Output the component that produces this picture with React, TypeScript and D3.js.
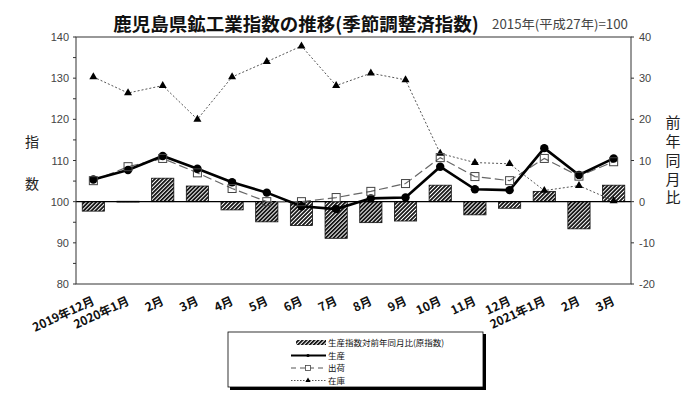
import React from "react";
import * as d3 from "d3";

const categories = [
  "2019年12月", "2020年1月", "2月", "3月", "4月", "5月", "6月", "7月",
  "8月", "9月", "10月", "11月", "12月", "2021年1月", "2月", "3月",
];
const production = [105.4, 107.7, 111.1, 108.0, 104.7, 102.2, 98.9, 98.2, 100.8, 101.0, 108.5, 103.0, 102.8, 113.0, 106.5, 110.5];
const shipments = [105.1, 108.5, 110.5, 107.0, 103.2, 100.0, 100.0, 101.0, 102.5, 104.4, 110.7, 106.1, 105.1, 110.5, 106.2, 109.7];
const inventory = [130.3, 126.4, 128.2, 120.0, 130.3, 134.0, 137.8, 128.2, 131.2, 129.6, 111.7, 109.5, 109.2, 102.7, 103.9, 100.2];
const yoy = [-2.3, 0.1, 5.7, 3.8, -2.0, -4.9, -5.8, -8.9, -5.1, -4.7, 4.0, -3.2, -1.6, 2.5, -6.6, 4.0];
const leftTicks = [80, 90, 100, 110, 120, 130, 140];
const rightTicks = [-20, -10, 0, 10, 20, 30, 40];
const legendLabels = ["生産指数対前年同月比(原指数)", "生産", "出荷", "在庫"];

const W = 700, H = 394;
const left = 76, right = 631, top = 37, bottom = 284;
const sansFont = "'Liberation Sans', Arial, sans-serif";
const jpFont = "'Noto Sans CJK JP', sans-serif";

export default function App() {
  const idx = d3.range(categories.length);
  const x = d3.scaleBand<number>().domain(idx).range([left, right]).paddingInner(0.36).paddingOuter(0.18);
  const step = x.step();
  const cx = (i: number) => left + step * (i + 0.5);
  const y = d3.scaleLinear().domain([80, 140]).range([bottom, top]);
  const y2 = d3.scaleLinear().domain([-20, 40]).range([bottom, top]);
  const bw = x.bandwidth();

  const line = (vals: number[]) =>
    d3.line<number>().x((_, i) => cx(i)).y((v) => y(v))(vals) || "";

  const minorLeft = d3.range(80, 141, 5);
  const tri = d3.symbol().type(d3.symbolTriangle).size(28)() || "";
  const rowY = [343, 355.5, 368, 380.5];

  return (
    <svg width={W} height={H} style={{ position: "absolute", left: 0, top: 0, background: "#fff" }}>
      <defs>
        <pattern id="hatch" patternUnits="userSpaceOnUse" width="2.8" height="2.8" patternTransform="rotate(45)">
          <rect width="2.8" height="2.8" fill="#fff" />
          <line x1="0.9" y1="0" x2="0.9" y2="2.8" stroke="#111" strokeWidth="1.8" />
        </pattern>
      </defs>
      <rect x={0} y={0} width={W} height={H} fill="#fff" />

      {/* Title */}
      <text x={296} y={31} textAnchor="middle" fontFamily={jpFont} fontWeight="bold" fontSize={18.5} fill="#111">
        鹿児島県鉱工業指数の推移(季節調整済指数)
      </text>
      <text x={492} y={29} fontFamily={jpFont} fontSize={12.5} fill="#444" textLength={136} lengthAdjust="spacingAndGlyphs">
        2015年(平成27年)=100
      </text>

      {/* bars */}
      {yoy.map((v, i) => (
        <rect key={"b" + i} x={x(i)} width={bw}
          y={Math.min(y2(v), y2(0))} height={Math.max(Math.abs(y2(v) - y2(0)), 0.8)}
          fill="url(#hatch)" stroke="#111" strokeWidth={0.8} />
      ))}
      {/* baseline */}
      <line x1={left} x2={right} y1={y(100)} y2={y(100)} stroke="#000" strokeWidth={1.2} />

      {/* inventory */}
      <path d={line(inventory)} fill="none" stroke="#555" strokeWidth={1} strokeDasharray="2,2" />
      {inventory.map((v, i) => (
        <path key={"t" + i} d={tri} transform={`translate(${cx(i)},${y(v)})`} fill="#000" />
      ))}
      {/* shipments */}
      <path d={line(shipments)} fill="none" stroke="#666" strokeWidth={1.2} strokeDasharray="9,4" />
      {/* production */}
      <path d={line(production)} fill="none" stroke="#000" strokeWidth={2.6} />
      {production.map((v, i) => (
        <circle key={"c" + i} cx={cx(i)} cy={y(v)} r={4.2} fill="#000" />
      ))}
      {shipments.map((v, i) => (
        <rect key={"s" + i} x={cx(i) - 4} y={y(v) - 4} width={8} height={8} fill="none" stroke="#444" strokeWidth={1} />
      ))}

      {/* frame */}
      <rect x={left} y={top} width={right - left} height={bottom - top} fill="none" stroke="#333" strokeWidth={1} />

      {/* left axis */}
      {minorLeft.map((t) => (
        <line key={"lt" + t} x1={left - 3} x2={left} y1={y(t)} y2={y(t)} stroke="#333" />
      ))}
      {leftTicks.map((t) => (
        <text key={"ll" + t} x={69} y={y(t) + 4} textAnchor="end" fontFamily={sansFont} fontSize={11} fill="#444">{t}</text>
      ))}
      {/* right axis */}
      {rightTicks.map((t) => (
        <g key={"r" + t}>
          <line x1={right} x2={right + 3} y1={y2(t)} y2={y2(t)} stroke="#333" />
          <text x={639} y={y2(t) + 4} fontFamily={sansFont} fontSize={11} fill="#444">{t}</text>
        </g>
      ))}

      {/* axis titles */}
      <text x={32} y={147} textAnchor="middle" fontFamily={jpFont} fontSize={14} fill="#222">指</text>
      <text x={32} y={189} textAnchor="middle" fontFamily={jpFont} fontSize={14} fill="#222">数</text>
      <text x={673} y={115} fontFamily={jpFont} fontSize={15} fill="#222"
        style={{ writingMode: "vertical-rl", letterSpacing: "3.8px" }}>前年同月比</text>

      {/* x labels */}
      {categories.map((c, i) => (
        <text key={"x" + i} transform={`translate(${cx(i) + 2},${304}) rotate(-25)`} textAnchor="end"
          fontFamily={jpFont} fontWeight="bold" fontSize={12} fill="#111">{c}</text>
      ))}

      {/* legend */}
      <rect x={230} y={334} width={256} height={56} fill="#000" />
      <rect x={228} y={332} width={255} height={55} fill="#fff" stroke="#000" strokeWidth={0.8} />
      <rect x={296} y={rowY[0] - 3} width={30} height={5} fill="url(#hatch)" />
      <line x1={291} x2={326} y1={rowY[1]} y2={rowY[1]} stroke="#000" strokeWidth={2} />
      <circle cx={308} cy={rowY[1]} r={1.6} fill="#000" />
      <line x1={291} x2={326} y1={rowY[2]} y2={rowY[2]} stroke="#555" strokeWidth={1} strokeDasharray="5,4" />
      <rect x={305.5} y={rowY[2] - 2.5} width={5} height={5} fill="#fff" stroke="#444" strokeWidth={0.8} />
      <line x1={291} x2={326} y1={rowY[3]} y2={rowY[3]} stroke="#555" strokeWidth={1} strokeDasharray="1.5,1.5" />
      <path d={d3.symbol().type(d3.symbolTriangle).size(12)() || ""} transform={`translate(308,${rowY[3]})`} fill="#000" />
      {legendLabels.map((l, i) => (
        <text key={"lg" + i} x={328} y={rowY[i] + 3.2} fontFamily={jpFont} fontSize={8.5} fill="#111">{l}</text>
      ))}
    </svg>
  );
}
